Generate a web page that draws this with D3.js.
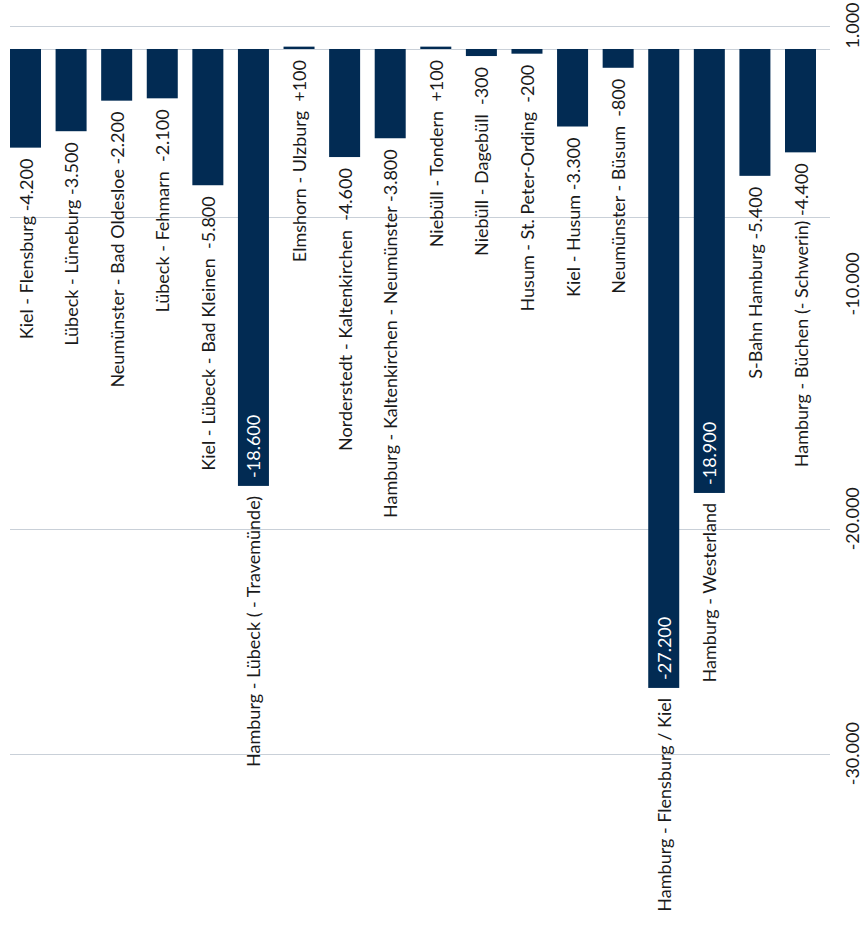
<!DOCTYPE html>
<html>
<head>
<meta charset="utf-8">
<script src="https://cdn.jsdelivr.net/npm/d3@7"></script>
<style>
  html, body { margin: 0; padding: 0; background: #fff; }
  svg { display: block; }
  text { font-family: Lato, "Open Sans", sans-serif; white-space: pre; }
</style>
</head>
<body>
<svg id="chart" width="863" height="935"></svg>
<script>
const categories = [
  "Kiel - Flensburg",
  "Lübeck - Lüneburg",
  "Neumünster - Bad Oldesloe",
  "Lübeck - Fehmarn",
  "Kiel - Lübeck - Bad Kleinen",
  "Hamburg - Lübeck ( - Travemünde)",
  "Elmshorn - Ulzburg",
  "Norderstedt - Kaltenkirchen",
  "Hamburg - Kaltenkirchen - Neumünster",
  "Niebüll - Tondern",
  "Niebüll - Dagebüll",
  "Husum - St. Peter-Ording",
  "Kiel - Husum",
  "Neumünster - Büsum",
  "Hamburg - Flensburg / Kiel",
  "Hamburg - Westerland",
  "S-Bahn Hamburg",
  "Hamburg - Büchen (- Schwerin)"
];
const values = [-4200, -3500, -2200, -2100, -5800, -18600, 100, -4600, -3800, 100, -300, -200, -3300, -800, -27200, -18900, -5400, -4400];
// separator between route name and value in the label text
const separators = [" ", " ", " ", "  ", "  ", " ", "  ", "  ", " ", "  ", "  ", "  ", " ", "  ", " ", " ", " ", " "];
const tickValues = [1000, -10000, -20000, -30000];
const tickLabels = ["1.000", "-10.000", "-20.000", "-30.000"];
const gridValues = [1000, 0, -7150, -20450, -30000];

const locale = d3.formatLocale({decimal: ",", thousands: ".", grouping: [3], currency: ["", " €"], minus: "-"});
const fmt = locale.format("+,");
const fmtIn = locale.format(",");

const svg = d3.select("#chart");
const barColor = "#022b53";
const gridColor = "#c9d0d8";
const fontSize = 18;

const xs = d3.scaleBand().domain(categories).range([10, 816]).paddingInner(0.32).paddingOuter(0);
const y = d3.scaleLinear().domain([1000, -30000]).range([25.5, 753.7]);

// grid lines
svg.append("g").selectAll("line").data(gridValues).join("line")
  .attr("x1", 10).attr("x2", 830)
  .attr("y1", d => Math.round(y(d)) + 0.5).attr("y2", d => Math.round(y(d)) + 0.5)
  .attr("stroke", gridColor).attr("stroke-width", 1);

// bars
svg.append("g").selectAll("rect").data(values).join("rect")
  .attr("x", (d, i) => xs(categories[i]))
  .attr("width", xs.bandwidth())
  .attr("y", d => Math.min(y(d), y(0)))
  .attr("height", d => Math.abs(y(d) - y(0)))
  .attr("fill", barColor);

const inside = d => d < -15000;

// labels
const lg = svg.append("g");
values.forEach((v, i) => {
  const cx = xs(categories[i]) + xs.bandwidth() / 2;
  const yEnd = Math.max(y(v), y(0));
  if (inside(v)) {
    lg.append("text")
      .attr("transform", `translate(${cx},${yEnd - 8}) rotate(-90)`)
      .attr("text-anchor", "start")
      .attr("dominant-baseline", "central")
      .attr("font-size", fontSize)
      .attr("fill", "#ffffff")
      .text(fmtIn(v));
    lg.append("text")
      .attr("transform", `translate(${cx},${yEnd + 10}) rotate(-90)`)
      .attr("text-anchor", "end")
      .attr("dominant-baseline", "central")
      .attr("font-size", fontSize)
      .attr("fill", "#1a1a1a")
      .text(categories[i]);
  } else {
    lg.append("text")
      .attr("transform", `translate(${cx},${yEnd + 11}) rotate(-90)`)
      .attr("text-anchor", "end")
      .attr("dominant-baseline", "central")
      .attr("font-size", fontSize)
      .attr("fill", "#1a1a1a")
      .text(categories[i] + separators[i] + (v > 0 ? fmt(v) : fmtIn(v)));
  }
});

// axis labels on the right
svg.append("g").selectAll("text").data(tickValues).join("text")
  .attr("transform", (d) => `translate(852,${y(d)}) rotate(-90)`)
  .attr("text-anchor", "middle")
  .attr("dominant-baseline", "central")
  .attr("font-size", fontSize)
  .attr("fill", "#1a1a1a")
  .text((d, i) => tickLabels[i]);
</script>
</body>
</html>
